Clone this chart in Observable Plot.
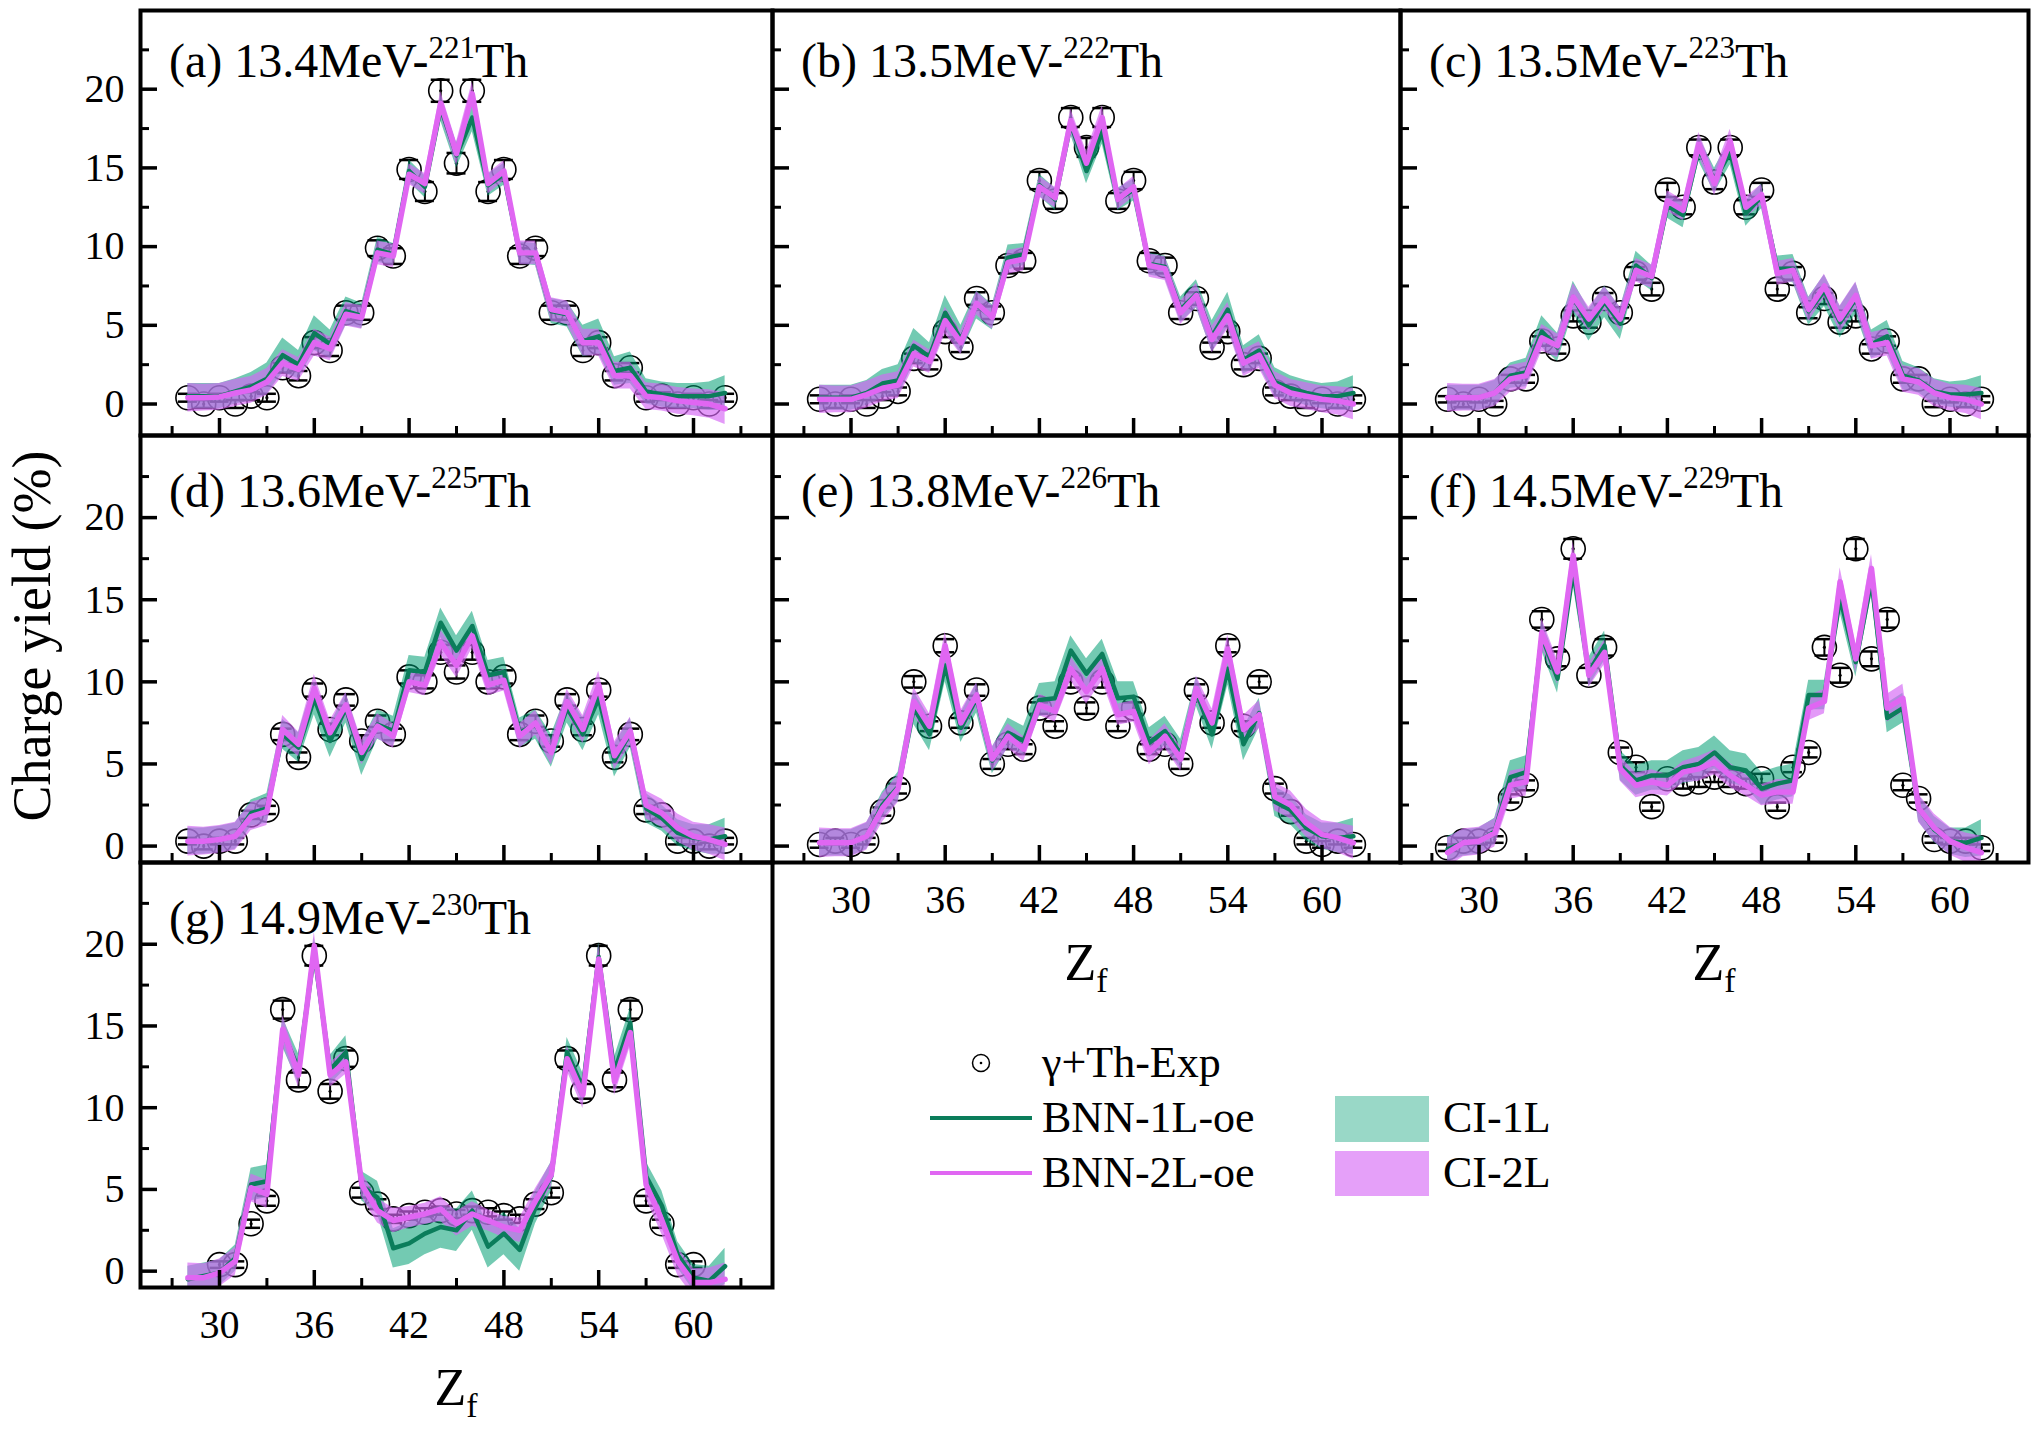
<!DOCTYPE html>
<html><head><meta charset="utf-8">
<script src="https://cdn.jsdelivr.net/npm/d3@7"></script>
<script src="https://cdn.jsdelivr.net/npm/@observablehq/plot@0.6"></script>
<style>
html,body{margin:0;padding:0;background:#fff;}
#chart{position:relative;width:2038px;height:1430px;background:#fff;font-family:'Liberation Serif','Times New Roman',serif;}
#chart svg{position:absolute;overflow:visible;}
</style></head><body><div id="chart"></div>
<script>
// ---------------- data ----------------
const Z = [28,29,30,31,32,33,34,35,36,37,38,39,40,41,42,43,44,45,46,47,48,49,50,51,52,53,54,55,56,57,58,59,60,61,62];
const xMajor = [30,36,42,48,54,60];
const xMinor = [27,33,39,45,51,57,63];
const yMajor = [0,5,10,15,20];
const yMinor = [2.5,7.5,12.5,17.5,22.5];

// (a) 13.4 MeV 221Th
const expA   = [0.4,0.0,0.4,0.0,0.5,0.4,2.3,1.8,3.9,3.4,5.8,5.8,9.9,9.4,14.9,13.5,19.9,15.3,19.9,13.5,14.9,9.4,9.9,5.8,5.8,3.4,3.9,1.8,2.3,0.4,0.5,0.0,0.4,0.0,0.4];
const errA   = [0.25,0.25,0.25,0.25,0.25,0.25,0.3,0.3,0.35,0.35,0.45,0.45,0.5,0.5,0.6,0.6,0.7,0.65,0.7,0.6,0.6,0.5,0.5,0.45,0.45,0.35,0.35,0.3,0.3,0.25,0.25,0.25,0.25,0.25,0.25];
const bnn1A  = [0.5,0.5,0.5,0.8,1.1,1.6,3.1,2.5,4.5,3.8,5.9,5.6,9.8,9.5,14.8,13.8,18.8,15.8,18.2,13.9,14.6,9.6,9.5,5.9,5.7,4.0,4.3,2.1,2.3,0.8,0.6,0.5,0.5,0.5,0.7];
const ci1A   = [0.8,0.8,0.8,0.8,0.9,1.0,1.1,0.9,1.1,0.9,0.9,0.8,0.8,0.7,0.7,0.7,0.8,0.8,0.9,0.7,0.7,0.7,0.7,0.8,0.8,1.0,1.1,0.9,1.0,0.8,0.8,0.8,0.8,0.9,1.1];
const bnn2A  = [0.4,0.4,0.45,0.7,0.9,1.4,2.6,2.2,3.9,3.5,5.7,5.5,9.6,9.4,14.6,14.0,19.1,15.9,19.7,14.0,14.8,9.6,9.6,6.0,5.8,3.9,3.9,1.8,1.8,0.5,0.4,0.2,0.1,0.0,-0.3];

// (b) 13.5 MeV 222Th
const expB   = [0.3,0.0,0.3,0.0,0.5,0.8,2.9,2.5,4.6,3.6,6.7,5.8,8.8,9.1,14.2,12.9,18.2,16.3,18.2,12.9,14.2,9.1,8.8,5.8,6.7,3.6,4.6,2.5,2.9,0.8,0.5,0.0,0.3,0.0,0.3];
const errB   = [0.25,0.25,0.25,0.25,0.25,0.25,0.3,0.3,0.35,0.3,0.4,0.4,0.5,0.5,0.55,0.5,0.6,0.6,0.6,0.5,0.55,0.5,0.5,0.4,0.4,0.3,0.35,0.3,0.3,0.25,0.25,0.25,0.25,0.25,0.25];
const bnn1B  = [0.4,0.4,0.4,0.7,1.3,1.5,3.7,3.0,5.8,4.1,6.3,5.5,9.3,9.5,13.9,13.0,17.8,14.8,17.3,13.0,13.6,8.9,8.7,6.0,7.0,4.3,6.0,2.8,3.4,1.4,1.0,0.7,0.5,0.5,0.7];
const ci1B   = [0.8,0.8,0.8,0.8,0.9,1.0,1.1,0.9,1.1,0.9,0.9,0.8,0.8,0.7,0.7,0.7,0.7,0.8,0.8,0.7,0.7,0.7,0.7,0.8,0.9,1.0,1.1,0.9,1.0,0.9,0.8,0.8,0.8,0.9,1.1];
const bnn2B  = [0.3,0.3,0.3,0.6,1.0,1.2,3.2,2.7,5.3,3.9,6.4,5.5,9.0,9.2,13.8,13.1,18.0,15.3,18.2,13.0,13.8,8.8,8.6,5.8,6.9,4.1,5.6,2.6,3.1,1.2,0.7,0.5,0.3,0.2,0.0];

// (c) 13.5 MeV 223Th
const expC   = [0.3,0.0,0.3,0.0,1.6,1.6,4.0,3.5,5.6,5.2,6.7,5.8,8.3,7.3,13.6,12.5,16.3,14.1,16.3,12.5,13.6,7.3,8.3,5.8,6.7,5.2,5.6,3.5,4.0,1.6,1.6,0.0,0.3,0.0,0.3];
const errC   = [0.2,0.2,0.2,0.2,0.25,0.25,0.3,0.3,0.35,0.35,0.35,0.35,0.4,0.4,0.45,0.45,0.5,0.45,0.5,0.45,0.45,0.4,0.4,0.35,0.35,0.35,0.35,0.3,0.3,0.25,0.25,0.2,0.2,0.2,0.2];
const bnn1C  = [0.4,0.4,0.4,0.7,1.8,2.0,4.6,3.6,6.8,5.0,6.5,5.1,8.8,8.0,12.6,12.0,16.2,14.2,16.0,12.1,13.2,8.6,8.6,5.9,7.2,5.2,6.7,3.8,4.3,1.8,1.5,0.8,0.6,0.6,0.7];
const ci1C   = [0.8,0.8,0.8,0.8,0.8,0.9,1.0,0.9,1.0,1.0,1.0,1.0,0.9,0.8,0.8,0.8,0.8,0.8,0.8,0.8,0.8,0.8,0.9,0.9,1.0,1.0,1.0,0.9,1.0,0.9,0.8,0.8,0.8,0.9,1.1];
const bnn2C  = [0.4,0.4,0.4,0.7,1.6,1.8,4.2,3.7,6.8,5.4,6.7,5.4,8.5,8.1,12.9,12.3,16.5,14.0,16.7,12.5,13.3,8.3,8.5,6.0,7.5,5.4,6.9,3.7,3.9,1.6,1.4,0.7,0.4,0.3,0.0];

// (d) 13.6 MeV 225Th
const expD   = [0.3,0.0,0.3,0.3,1.9,2.2,6.8,5.4,9.5,7.1,8.9,6.4,7.6,6.8,10.3,10.0,11.8,10.6,11.8,10.0,10.3,6.8,7.6,6.4,8.9,7.1,9.5,5.4,6.8,2.2,1.9,0.3,0.3,0.0,0.3];
const errD   = [0.2,0.2,0.2,0.2,0.25,0.25,0.35,0.3,0.4,0.35,0.35,0.35,0.35,0.35,0.4,0.4,0.45,0.4,0.45,0.4,0.4,0.35,0.35,0.35,0.35,0.35,0.4,0.3,0.35,0.25,0.25,0.2,0.2,0.2,0.2];
const bnn1D  = [0.3,0.3,0.4,0.6,2.0,2.3,6.8,6.0,9.0,6.4,8.4,5.3,7.4,7.0,10.7,10.6,13.6,11.9,13.4,10.4,10.6,6.9,7.4,5.8,8.4,6.8,9.0,5.2,6.9,2.3,1.7,0.8,0.5,0.4,0.6];
const ci1D   = [0.8,0.8,0.8,0.8,0.8,0.9,0.9,0.9,1.0,1.0,0.9,1.0,0.9,0.9,0.9,0.9,0.9,0.9,0.9,0.9,0.9,0.9,0.9,1.0,0.9,1.0,1.0,1.0,0.9,0.9,0.8,0.8,0.8,0.9,1.1];
const bnn2D  = [0.3,0.3,0.4,0.6,1.8,2.1,7.1,6.2,9.6,6.9,8.6,5.7,7.3,6.7,10.0,9.8,12.4,11.0,12.8,9.8,10.1,6.7,7.5,5.7,8.8,7.1,9.8,5.5,7.0,2.5,2.0,1.1,0.6,0.4,0.1];

// (e) 13.8 MeV 226Th
const expE   = [0.1,0.3,0.1,0.3,2.1,3.5,10.0,7.3,12.2,7.5,9.5,5.0,6.2,5.9,8.4,7.3,10.0,8.4,10.0,7.3,8.4,5.9,6.2,5.0,9.5,7.5,12.2,7.3,10.0,3.5,2.1,0.3,0.1,0.3,0.1];
const errE   = [0.2,0.2,0.2,0.2,0.25,0.3,0.35,0.3,0.4,0.3,0.35,0.3,0.3,0.3,0.35,0.3,0.35,0.35,0.35,0.3,0.35,0.3,0.3,0.3,0.35,0.3,0.4,0.3,0.35,0.3,0.25,0.2,0.2,0.2,0.2];
const bnn1E  = [0.2,0.2,0.2,0.6,2.5,3.6,8.4,6.8,11.0,7.2,9.0,5.2,6.9,6.4,8.9,9.0,11.9,10.5,11.7,9.0,9.1,6.3,7.0,5.6,9.4,6.8,10.8,6.2,8.1,2.7,2.2,1.1,0.6,0.5,0.6];
const ci1E   = [0.8,0.8,0.8,0.8,0.8,0.9,1.0,1.0,1.0,0.9,0.9,0.8,0.9,0.9,1.0,1.0,0.9,0.9,0.9,1.0,0.9,0.9,0.9,0.9,0.9,0.9,1.0,1.0,0.9,0.9,0.9,0.8,0.8,0.9,1.1];
const bnn2E  = [0.2,0.2,0.2,0.6,2.3,3.5,8.8,7.3,12.2,7.5,9.2,5.3,6.7,5.9,8.6,8.2,10.8,9.4,10.8,8.0,8.2,5.7,6.7,5.3,9.6,7.5,12.0,7.1,8.0,3.0,2.5,1.4,0.7,0.5,0.2];

// (f) 14.5 MeV 229Th
const expF   = [-0.1,0.3,0.3,0.4,2.9,3.7,13.8,11.4,18.1,10.4,12.1,5.7,4.8,2.4,4.1,3.8,3.9,4.2,3.9,3.8,4.1,2.4,4.8,5.7,12.1,10.4,18.1,11.4,13.8,3.7,2.9,0.4,0.3,0.3,-0.1];
const errF   = [0.2,0.2,0.2,0.2,0.25,0.3,0.5,0.45,0.6,0.45,0.5,0.3,0.3,0.25,0.3,0.3,0.3,0.3,0.3,0.3,0.3,0.25,0.3,0.3,0.5,0.45,0.6,0.45,0.5,0.3,0.25,0.2,0.2,0.2,0.2];
const bnn1F  = [-0.2,0.2,0.3,0.9,4.2,4.5,12.8,10.2,16.8,10.6,12.2,4.9,4.0,4.3,4.3,4.8,5.0,5.7,4.8,4.6,3.5,3.8,4.0,9.2,9.2,15.1,11.2,16.2,7.8,8.4,2.3,1.0,0.3,0.2,0.5];
const ci1F   = [0.8,0.8,0.8,0.8,1.0,1.0,0.9,0.9,0.9,0.9,0.9,0.9,0.9,0.9,0.9,1.0,1.0,1.0,1.0,1.0,1.0,1.0,1.0,0.9,0.9,0.9,0.9,0.9,0.9,0.9,0.8,0.8,0.8,0.9,1.1];
const bnn2F  = [-0.4,0.2,0.3,0.8,3.7,3.9,13.0,10.6,17.7,10.4,11.8,4.7,3.7,3.9,3.7,4.5,4.7,5.1,4.3,3.7,3.1,3.3,3.3,8.4,8.8,16.1,11.4,16.9,8.4,9.0,2.3,1.1,0.3,-0.1,-0.4];

// (g) 14.9 MeV 230Th
const expG   = [null,null,0.4,0.4,2.9,4.3,16.0,11.7,19.3,11.0,13.0,4.8,4.1,3.2,3.4,3.6,3.7,3.5,3.7,3.6,3.4,3.2,4.1,4.8,13.0,11.0,19.3,11.7,16.0,4.3,2.9,0.4,0.4,null,null];
const errG   = [0.2,0.2,0.2,0.2,0.25,0.3,0.55,0.45,0.6,0.45,0.5,0.3,0.3,0.25,0.25,0.25,0.25,0.25,0.25,0.25,0.25,0.25,0.3,0.3,0.5,0.45,0.6,0.45,0.55,0.3,0.25,0.2,0.2,0.2,0.2];
const bnn1G  = [-0.5,-0.3,-0.1,0.8,5.3,5.5,14.6,12.4,19.5,12.3,13.4,5.2,4.5,1.4,1.7,2.3,2.7,2.5,3.7,1.5,2.3,1.3,3.9,5.8,13.4,11.2,19.2,12.2,15.2,5.8,4.0,1.0,-0.4,-0.6,0.3];
const ci1G   = [0.8,0.8,0.8,0.8,1.0,1.0,0.9,0.9,0.9,0.9,1.0,0.9,1.0,1.2,1.3,1.3,1.3,1.3,1.2,1.3,1.3,1.3,1.0,0.9,0.9,0.9,0.9,0.9,0.9,0.9,0.9,0.8,0.8,0.9,1.1];
const bnn2G  = [-0.4,-0.4,-0.1,0.6,5.1,4.7,14.8,12.0,19.9,12.0,12.8,5.3,3.7,3.1,3.3,3.5,3.8,2.9,3.5,3.1,2.7,2.5,4.3,5.9,13.0,10.8,19.1,11.6,14.6,5.3,3.1,0.6,-0.7,-0.7,-0.5];

// CI half-width of BNN-2L (shared reading)
const ci2All = [0.9,0.85,0.85,0.85,0.85,0.85,0.85,0.75,0.85,0.75,0.75,0.75,0.75,0.75,0.65,0.65,0.75,0.75,0.75,0.65,0.65,0.75,0.75,0.75,0.75,0.85,0.85,0.85,0.85,0.85,0.85,0.85,0.85,0.9,1.0];

const panelLabels = ["(a) 13.4MeV-","(b) 13.5MeV-","(c) 13.5MeV-","(d) 13.6MeV-","(e) 13.8MeV-","(f) 14.5MeV-","(g) 14.9MeV-"];
const panelMass   = ["221","222","223","225","226","229","230"];
const legendLabels = ["γ+Th-Exp","BNN-1L-oe","BNN-2L-oe"];
const bandLabels = ["CI-1L","CI-2L"];

// ---------------- layout ----------------
const colX=[140,772,1400], colW=[632,628,628];
const rowY=[10,435,862], rowH=[425,427,425];
const yDomains=[[-2,25],[-1,25],[-1,25]];
const FONT="'Liberation Serif','Times New Roman',serif";
const C_G_LINE="#0b7d5b", C_G_BAND="#009e73", C_P_LINE="#e066f2", C_P_BAND="#d565f5";

const panels=[
 {exp:expA,err:errA,b1:bnn1A,c1:ci1A,b2:bnn2A,row:0,col:0},
 {exp:expB,err:errB,b1:bnn1B,c1:ci1B,b2:bnn2B,row:0,col:1},
 {exp:expC,err:errC,b1:bnn1C,c1:ci1C,b2:bnn2C,row:0,col:2},
 {exp:expD,err:errD,b1:bnn1D,c1:ci1D,b2:bnn2D,row:1,col:0},
 {exp:expE,err:errE,b1:bnn1E,c1:ci1E,b2:bnn2E,row:1,col:1},
 {exp:expF,err:errF,b1:bnn1F,c1:ci1F,b2:bnn2F,row:1,col:2},
 {exp:expG,err:errG,b1:bnn1G,c1:ci1G,b2:bnn2G,row:2,col:0}
];

const chart=document.getElementById("chart");

panels.forEach((p,k)=>{
  const exp=Z.map((z,i)=>({z,v:p.exp[i],e:p.err[i]})).filter(d=>d.v!=null);
  const mod=Z.map((z,i)=>({z,g:p.b1[i],gw:p.c1[i],p:p.b2[i],pw:ci2All[i]}));
  const showX = p.row===2 || (p.row===1 && p.col>0);
  const showY = p.col===0;
  const svg=Plot.plot({
    width:colW[p.col], height:rowH[p.row],
    marginTop:0, marginRight:0, marginBottom:0, marginLeft:0,
    style:{fontFamily:FONT, fontSize:"40px", color:"black", background:"transparent", overflow:"visible"},
    x:{domain:[25,65], label:null},
    y:{domain:yDomains[p.row], label:null},
    marks:[
      Plot.ruleX(exp,{x:"z",y1:d=>d.v-d.e,y2:d=>d.v+d.e,stroke:"black",strokeWidth:2}),
      Plot.ruleY(exp,{y:d=>d.v+d.e,x1:d=>d.z-0.6,x2:d=>d.z+0.6,stroke:"black",strokeWidth:2.5}),
      Plot.ruleY(exp,{y:d=>d.v-d.e,x1:d=>d.z-0.6,x2:d=>d.z+0.6,stroke:"black",strokeWidth:2.5}),
      Plot.dot(exp,{x:"z",y:"v",r:12,stroke:"black",strokeWidth:1.6,fill:"none"}),
      Plot.dot(exp,{x:"z",y:"v",r:1.6,fill:"black",stroke:null}),
      Plot.areaY(mod,{x:"z",y1:d=>d.g-d.gw,y2:d=>d.g+d.gw,fill:C_G_BAND,fillOpacity:0.55,clip:true}),
      Plot.areaY(mod,{x:"z",y1:d=>d.p-d.pw,y2:d=>d.p+d.pw,fill:C_P_BAND,fillOpacity:0.66,clip:true}),
      Plot.line(mod,{x:"z",y:"g",stroke:C_G_LINE,strokeWidth:4.5,clip:true}),
      Plot.line(mod,{x:"z",y:"p",stroke:C_P_LINE,strokeWidth:5.5,clip:true}),
      Plot.axisX(xMinor,{anchor:"bottom",tickSize:-9,strokeWidth:3,fill:"none",label:null}),
      Plot.axisX(xMajor,{anchor:"bottom",tickSize:-17,strokeWidth:3.5,fill:"none",label:null}),
      Plot.axisY(yMinor,{anchor:"left",tickSize:-9,strokeWidth:3,fill:"none",label:null}),
      Plot.axisY(yMajor,{anchor:"left",tickSize:-17,strokeWidth:3.5,fill:"none",label:null}),
      showX ? Plot.axisX(xMajor,{anchor:"bottom",tickSize:0,tickPadding:22,fontSize:40,label:null}) : null,
      showY ? Plot.axisY(yMajor,{anchor:"left",tickSize:0,tickPadding:16,fontSize:40,label:null}) : null,
      Plot.frame({stroke:"black",strokeWidth:4})
    ]
  });
  svg.style.left=colX[p.col]+"px";
  svg.style.top=rowY[p.row]+"px";
  const s=d3.select(svg);
  const t=s.append("text").attr("x",29).attr("y",p.row===0?67:72).attr("text-anchor","start")
    .attr("font-family",FONT).attr("font-size",48).attr("fill","black");
  t.append("tspan").text(panelLabels[k]);
  t.append("tspan").attr("font-size",31).attr("dy",-19).text(panelMass[k]);
  t.append("tspan").attr("font-size",48).attr("dy",19).text("Th");
  chart.appendChild(svg);
});

// ---------------- overlay: axis titles + legend ----------------
const ov=d3.create("svg").attr("width",2038).attr("height",1430)
  .style("left","0px").style("top","0px").style("pointer-events","none");
ov.append("text").attr("transform","translate(50,636) rotate(-90)")
  .attr("text-anchor","middle").attr("font-family",FONT).attr("font-size",54).attr("fill","black")
  .text("Charge yield (%)");
[[0,2],[1,1],[2,1]].forEach(([c,r])=>{
  const cx=colX[c]+colW[c]/2, by=rowY[r]+rowH[r]+118;
  const t=ov.append("text").attr("x",cx).attr("y",by).attr("text-anchor","middle")
    .attr("font-family",FONT).attr("font-size",52).attr("fill","black");
  t.append("tspan").text("Z");
  t.append("tspan").attr("font-size",34).attr("dy",12).text("f");
});
// legend
const lg=ov.append("g").attr("font-family",FONT).attr("font-size",44).attr("fill","black");
lg.append("circle").attr("cx",981).attr("cy",1063).attr("r",8.5).attr("fill","none").attr("stroke","black").attr("stroke-width",1.5);
lg.append("circle").attr("cx",981).attr("cy",1063).attr("r",1.3).attr("fill","black");
lg.append("line").attr("x1",930).attr("x2",1032).attr("y1",1118).attr("y2",1118).attr("stroke",C_G_LINE).attr("stroke-width",4);
lg.append("line").attr("x1",930).attr("x2",1032).attr("y1",1173).attr("y2",1173).attr("stroke",C_P_LINE).attr("stroke-width",4);
[1077,1132,1187].forEach((y,i)=>lg.append("text").attr("x",1042).attr("y",y).text(legendLabels[i]));
lg.append("rect").attr("x",1335).attr("y",1096).attr("width",94).attr("height",46).attr("fill",C_G_BAND).attr("fill-opacity",0.4);
lg.append("rect").attr("x",1335).attr("y",1151).attr("width",94).attr("height",45).attr("fill",C_P_BAND).attr("fill-opacity",0.62);
[1132,1187].forEach((y,i)=>lg.append("text").attr("x",1443).attr("y",y).text(bandLabels[i]));
chart.appendChild(ov.node());
</script></body></html>
